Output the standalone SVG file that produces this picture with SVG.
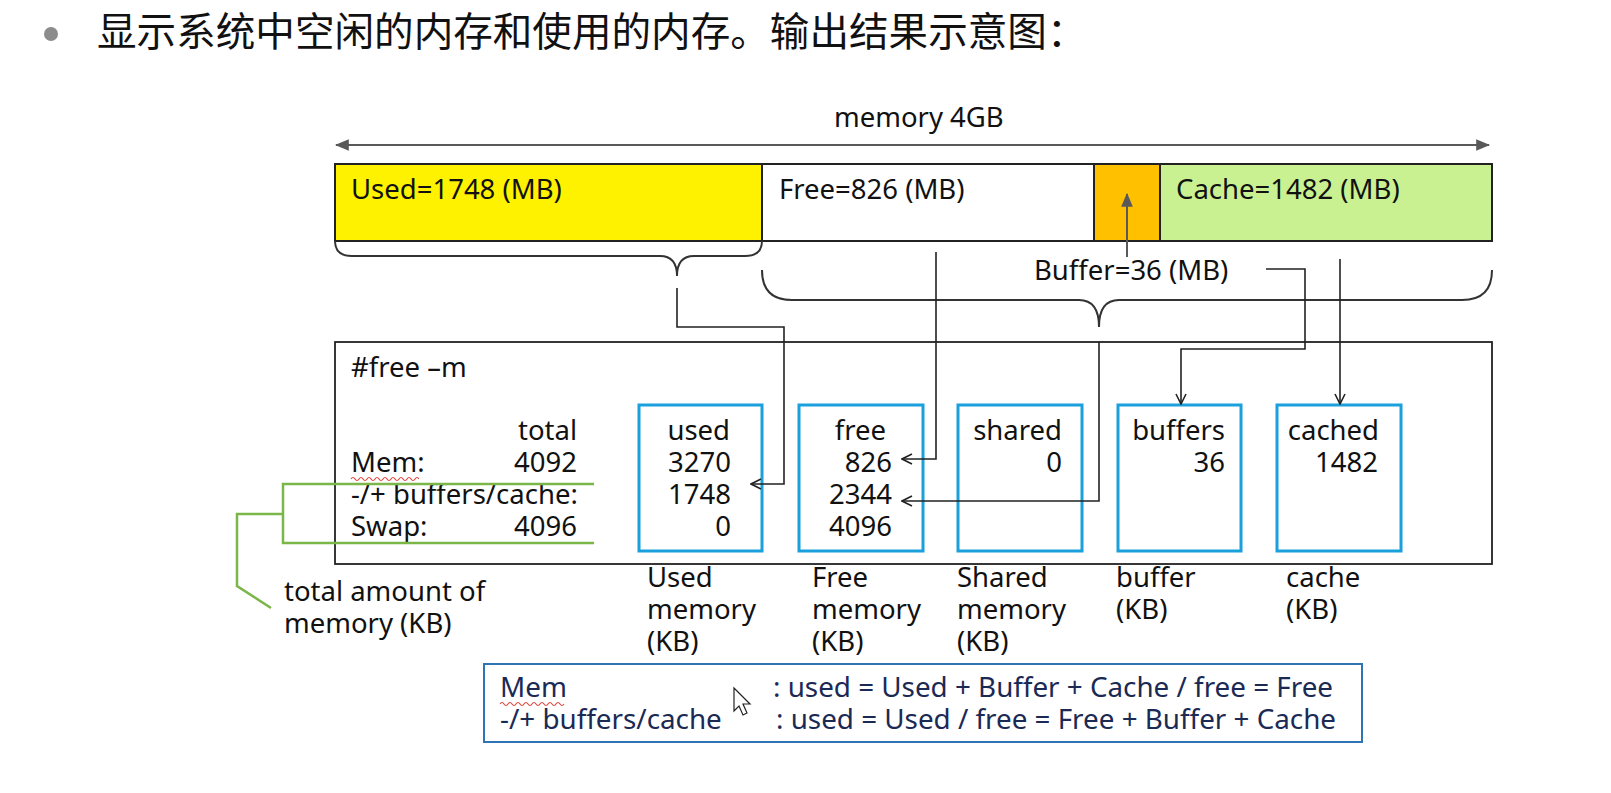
<svg xmlns="http://www.w3.org/2000/svg" width="1611" height="793" viewBox="0 0 1611 793">
<style>
.t{font-family:"Noto Sans","Open Sans","Liberation Sans",sans-serif;font-size:27.5px;fill:#111}
.e{text-anchor:end}
.cn{font-family:"Noto Sans CJK SC","Noto Sans",sans-serif;font-size:39.6px;fill:#111}
.blue{fill:none;stroke:#1AA0DC;stroke-width:3}
.con{fill:none;stroke:#222;stroke-width:1.6}
.brace{fill:none;stroke:#333;stroke-width:2}
.grn{fill:none;stroke:#7AB648;stroke-width:2.5}
.sq{fill:none;stroke:#E0453A;stroke-width:1.2}
.nv{font-family:"Noto Sans","Open Sans","Liberation Sans",sans-serif;font-size:27.8px;fill:#1B2A55}
</style>
<defs>
<marker id="open" viewBox="0 0 12 12" refX="11" refY="6" markerWidth="12" markerHeight="12" markerUnits="userSpaceOnUse" orient="auto">
<path d="M1,1 L11,6 L1,11" fill="none" stroke="#222" stroke-width="1.6"/>
</marker>
<marker id="fill" viewBox="0 0 12 12" refX="11" refY="6" markerWidth="14" markerHeight="14" markerUnits="userSpaceOnUse" orient="auto-start-reverse">
<path d="M0,1 L12,6 L0,11 Z" fill="#595959"/>
</marker>
</defs>
<rect width="1611" height="793" fill="#fff"/>
<g id="title">
<circle cx="51" cy="34" r="7" fill="#8c8c8c"/>
<text class="cn" x="97" y="46">显示系统中空闲的内存和使用的内存。输出结果示意图：</text>
</g>
<g id="memory-scale">
<text class="t" x="834" y="127">memory 4GB</text>
</g>
<g id="bar">
<rect x="335" y="164" width="427" height="77" fill="#FFF200" stroke="#222" stroke-width="2"/>
<rect x="762" y="164" width="332" height="77" fill="#fff" stroke="#222" stroke-width="2"/>
<rect x="1094" y="164" width="66" height="77" fill="#FFC000" stroke="#222" stroke-width="2"/>
<rect x="1160" y="164" width="332" height="77" fill="#C9F192" stroke="#222" stroke-width="2"/>
<text class="t" x="351" y="199">Used=1748 (MB)</text>
<text class="t" x="779" y="199">Free=826 (MB)</text>
<text class="t" x="1176" y="199">Cache=1482 (MB)</text>
<text class="t" x="1034" y="280">Buffer=36 (MB)</text>
</g>
<g id="braces">
<path class="brace" d="M335,241 Q335,256 352,256 H660 Q677,256 677,276 Q677,256 694,256 H745 Q762,256 762,241"/>
<path class="brace" d="M762,270 Q762,300 792,300 H1079 Q1099,300 1099,327 Q1099,300 1119,300 H1462 Q1492,300 1492,270"/>
</g>
<g id="free-box">
<rect x="335" y="342" width="1157" height="222" fill="none" stroke="#222" stroke-width="1.8"/>
<text class="t" x="351" y="377">#free –m</text>
<text class="t e" x="577" y="440">total</text>
<text class="t" x="351" y="472">Mem:</text>
<text class="t e" x="577" y="472">4092</text>
<text class="t" x="351" y="504">-/+ buffers/cache:</text>
<text class="t" x="351" y="536">Swap:</text>
<text class="t e" x="577" y="536">4096</text>
<path class="sq" d="M351,479 q2,-3 4,0 t4,0 t4,0 t4,0 t4,0 t4,0 t4,0 t4,0 t4,0 t4,0 t4,0 t4,0 t4,0 t4,0 t4,0 t4,0 t4,0"/>
</g>
<g id="col-used">
<rect class="blue" x="639" y="405" width="123" height="146"/>
<text class="t e" x="730" y="440">used</text>
<text class="t e" x="731" y="472">3270</text>
<text class="t e" x="731" y="504">1748</text>
<text class="t e" x="731" y="536">0</text>
</g>
<g id="col-free">
<rect class="blue" x="799" y="405" width="124" height="146"/>
<text class="t e" x="886" y="440">free</text>
<text class="t e" x="892" y="472">826</text>
<text class="t e" x="892" y="504">2344</text>
<text class="t e" x="892" y="536">4096</text>
</g>
<g id="col-shared">
<rect class="blue" x="958" y="405" width="124" height="146"/>
<text class="t e" x="1062" y="440">shared</text>
<text class="t e" x="1062" y="472">0</text>
</g>
<g id="col-buffers">
<rect class="blue" x="1118" y="405" width="123" height="146"/>
<text class="t e" x="1225" y="440">buffers</text>
<text class="t e" x="1225" y="472">36</text>
</g>
<g id="col-cached">
<rect class="blue" x="1277" y="405" width="124" height="146"/>
<text class="t e" x="1379" y="440">cached</text>
<text class="t e" x="1378" y="472">1482</text>
</g>
<g id="total-bracket">
<path class="grn" d="M594,484 H283 V543 H594 M283,514 H237 V586 L271,608"/>
<text class="t" x="284" y="601">total amount of</text>
<text class="t" x="284" y="633">memory (KB)</text>
</g>
<g id="labels">
<text class="t" x="647" y="587">Used</text>
<text class="t" x="647" y="619">memory</text>
<text class="t" x="647" y="651">(KB)</text>
<text class="t" x="812" y="587">Free</text>
<text class="t" x="812" y="619">memory</text>
<text class="t" x="812" y="651">(KB)</text>
<text class="t" x="957" y="587">Shared</text>
<text class="t" x="957" y="619">memory</text>
<text class="t" x="957" y="651">(KB)</text>
<text class="t" x="1116" y="587">buffer</text>
<text class="t" x="1116" y="619">(KB)</text>
<text class="t" x="1286" y="587">cache</text>
<text class="t" x="1286" y="619">(KB)</text>
</g>
<g id="formula">
<rect x="484" y="664" width="878" height="78" fill="#fff" stroke="#2E75B6" stroke-width="2"/>
<text class="nv" x="500" y="697">Mem</text>
<text class="nv" x="773" y="697">: used = Used + Buffer + Cache / free = Free</text>
<text class="nv" x="500" y="729">-/+ buffers/cache</text>
<text class="nv" x="776" y="729">: used = Used / free = Free + Buffer + Cache</text>
<path class="sq" d="M500,704 q2,-3 4,0 t4,0 t4,0 t4,0 t4,0 t4,0 t4,0 t4,0 t4,0 t4,0 t4,0 t4,0 t4,0 t4,0 t4,0 t4,0"/>
<path d="M734,688 V711 L739,706 L743,715 L747,713 L743,704 L750,704 Z" fill="#fff" stroke="#222" stroke-width="1.2"/>
</g>
<g id="connectors">
<path d="M336,145 H1489" fill="none" stroke="#595959" stroke-width="2" marker-start="url(#fill)" marker-end="url(#fill)"/>
<path d="M1127,257 V194" fill="none" stroke="#595959" stroke-width="2" marker-end="url(#fill)"/>
<path class="con" d="M677,288 V327 H784 V484 H751" marker-end="url(#open)"/>
<path class="con" d="M936,252 V459 H902" marker-end="url(#open)"/>
<path class="con" d="M1099,342 V501 H902" marker-end="url(#open)"/>
<path class="con" d="M1266,269 H1305 V349 H1181 V404" marker-end="url(#open)"/>
<path class="con" d="M1340,259 V404" marker-end="url(#open)"/>
</g>
</svg>
